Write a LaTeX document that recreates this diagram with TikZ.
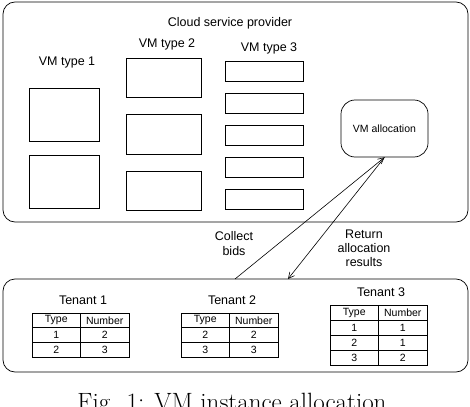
\documentclass[tikz,border=0pt]{standalone}
\usepackage{fontspec}
\newfontfamily\arialfont{Liberation Sans}
\usetikzlibrary{
    arrows.meta,
    positioning,
    matrix
}

\begin{document}
\begin{tikzpicture}[
        x=1pt, y=-1pt,
        every node/.style={font=\arialfont\fontsize{12.5}{15}\selectfont},
        frame/.style={draw, line width=0.7pt, rounded corners=12pt, minimum width=465pt},
        vmbox/.style={draw, line width=0.7pt, inner sep=0pt},
        alloc/.style={draw, line width=0.7pt, rounded corners=14pt, minimum width=87pt, minimum height=57pt, font=\arialfont\fontsize{10.5}{12}\selectfont},
        label/.style={align=center, inner sep=0pt},
        bidtable/.style={matrix of nodes, inner sep=0pt,
            column sep=-0.7pt, row sep=-0.7pt,
            nodes={draw, line width=0.7pt, minimum width=48.5pt, minimum height=#1, inner sep=0pt, anchor=center,
                font=\arialfont\fontsize{10.5}{12}\selectfont}},
        arrow/.style={-{Straight Barb[length=6pt, width=6pt]}, line width=0.6pt}
    ]
        \useasboundingbox (0,0) rectangle (470,406);

        % Provider
        \node[frame, minimum height=220pt] (cloud) at (235.5, 112) {};
        \node[label] (cloudlabel) at (230, 23) {Cloud service provider};

        % VM type 1
        \node[label] (type1) at (67, 62) {VM type 1};
        \node[vmbox, minimum width=70pt, minimum height=53pt] (vma) at (64, 114.5) {};
        \node[vmbox, minimum width=70pt, minimum height=53pt] (vmb) at (64, 181.5) {};

        % VM type 2
        \node[label] (type2) at (167, 44) {VM type 2};
        \node[vmbox, minimum width=75pt, minimum height=39pt] (vmc) at (163.5, 77.5) {};
        \node[vmbox, minimum width=75pt, minimum height=40pt] (vmd) at (163.5, 134) {};
        \node[vmbox, minimum width=75pt, minimum height=39pt] (vme) at (163.5, 190.5) {};

        % VM type 3
        \node[label] (type3) at (269, 48) {VM type 3};
        \foreach \y/\name in {71/vmf, 103/vmg, 135/vmh, 167/vmi, 199/vmj}
            \node[vmbox, minimum width=78pt, minimum height=20pt] (\name) at (264, \y) {};

        % Allocation
        \node[alloc] (allocation) at (384.5, 128.5) {VM allocation};

        % Tenants
        \node[frame, minimum height=93pt] (tenants) at (235.5, 325.5) {};
        \coordinate (bids) at (235, 279);
        \coordinate (results) at (288, 279);

        \node[label] (tenant1) at (83, 300) {Tenant 1};
        \matrix[bidtable=14.7pt] (table1) at (80.5, 335) {
            Type & Number \\
            1 & 2 \\
            2 & 3 \\
        };

        \node[label] (tenant2) at (232, 300) {Tenant 2};
        \matrix[bidtable=14.7pt] (table2) at (229.5, 335) {
            Type & Number \\
            2 & 2 \\
            3 & 3 \\
        };

        \node[label] (tenant3) at (381, 292) {Tenant 3};
        \matrix[bidtable=15pt] (table3) at (378.5, 335) {
            Type & Number \\
            1 & 1 \\
            2 & 1 \\
            3 & 2 \\
        };

        % Arrows
        \draw[arrow] (bids) -- (allocation.south);
        \draw[arrow] (allocation.south) -- (results);
        \node[label] (collect) at (234, 244) {Collect\\bids};
        \node[label, font=\arialfont\fontsize{12.5}{14}\selectfont] (return) at (364, 248) {Return\\allocation\\results};

        % Caption
        \node[anchor=base, inner sep=0pt, font=\rmfamily\fontsize{25}{30}\selectfont] (caption) at (232, 410) {Fig. 1: VM instance allocation};
    \end{tikzpicture}
\end{document}
